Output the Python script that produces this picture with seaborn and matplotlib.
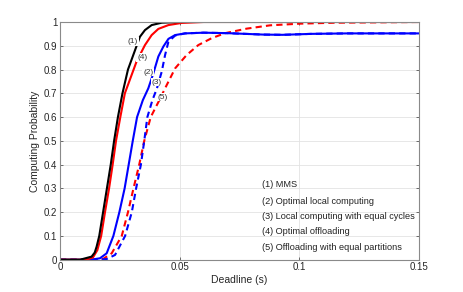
import numpy as np
import pandas as pd
import matplotlib
matplotlib.use("Agg")
import matplotlib.pyplot as plt
import seaborn as sns

# Curves (deadline in s, computing probability)
mms_x = [0, 0.0084, 0.0132, 0.0145, 0.0153, 0.0164, 0.018, 0.0196, 0.0212, 0.0226,
         0.0242, 0.0261, 0.0284, 0.0313, 0.0334, 0.0355, 0.0383, 0.0425, 0.05, 0.06, 0.15]
mms_y = [0, 0, 0.013, 0.03, 0.055, 0.1, 0.2, 0.3, 0.4, 0.5,
         0.6, 0.7, 0.8, 0.88, 0.938, 0.966, 0.987, 0.997, 1.0, 1.0, 1.0]

loc_opt_x = [0, 0.013, 0.0167, 0.0195, 0.0223, 0.0248, 0.027, 0.0287, 0.0304, 0.0322,
             0.0346, 0.0369, 0.039, 0.0411, 0.0432, 0.0453, 0.0481, 0.0522, 0.06, 0.07,
             0.085, 0.093, 0.105, 0.12, 0.15]
loc_opt_y = [0, 0, 0.006, 0.027, 0.1, 0.2, 0.3, 0.4, 0.5, 0.6,
             0.671, 0.721, 0.784, 0.855, 0.897, 0.929, 0.945, 0.952, 0.955, 0.953,
             0.947, 0.946, 0.95, 0.952, 0.952]

loc_eq_x = [0, 0.0165, 0.0195, 0.023, 0.0272, 0.03, 0.0318, 0.0338, 0.0352, 0.0365,
            0.0386, 0.0405, 0.0425, 0.0439, 0.0453, 0.0481, 0.0522, 0.06, 0.07, 0.085,
            0.093, 0.105, 0.12, 0.15]
loc_eq_y = [0, 0, 0.003, 0.02, 0.1, 0.2, 0.3, 0.4, 0.5, 0.6,
            0.671, 0.721, 0.791, 0.861, 0.917, 0.943, 0.952, 0.955, 0.953, 0.947,
            0.946, 0.95, 0.952, 0.952]

off_opt_x = [0, 0.011, 0.0138, 0.0156, 0.0172, 0.0188, 0.0205, 0.022, 0.0234, 0.0252,
             0.0271, 0.032, 0.0355, 0.0383, 0.0411, 0.0453, 0.0508, 0.06, 0.15]
off_opt_y = [0, 0, 0.01, 0.04, 0.1, 0.2, 0.3, 0.4, 0.5, 0.6,
             0.7, 0.834, 0.903, 0.945, 0.971, 0.987, 0.996, 1.0, 1.0]

off_eq_x = [0, 0.0158, 0.018, 0.0216, 0.0258, 0.0284, 0.0307, 0.0331, 0.0352, 0.0379,
            0.0415, 0.0439, 0.0481, 0.0529, 0.0578, 0.0634, 0.069, 0.078, 0.0878, 0.1003,
            0.115, 0.15]
off_eq_y = [0, 0, 0.003, 0.027, 0.1, 0.2, 0.3, 0.4, 0.5, 0.6,
            0.671, 0.721, 0.805, 0.861, 0.903, 0.932, 0.953, 0.972, 0.986, 0.993,
            0.997, 1.0]

# inline tags (1)..(5) on the curves
tag_text = ["(1)", "(4)", "(2)", "(3)", "(5)"]
tag_x = [0.0305, 0.0343, 0.0368, 0.0405, 0.043]
tag_y = [0.919, 0.852, 0.789, 0.747, 0.684]

legend_lines = ["(1) MMS",
                "(2) Optimal local computing",
                "(3) Local computing with equal cycles",
                "(4) Optimal offloading",
                "(5) Offloading with equal partitions"]
legend_y = [0.315, 0.243, 0.18, 0.12, 0.053]

x_ticks = [0, 0.05, 0.1, 0.15]
x_tick_labels = ["0", "0.05", "0.1", "0.15"]
y_ticks = [0, 0.1, 0.2, 0.3, 0.4, 0.5, 0.6, 0.7, 0.8, 0.9, 1.0]
y_tick_labels = ["0", "0.1", "0.2", "0.3", "0.4", "0.5", "0.6", "0.7", "0.8", "0.9", "1"]

sns.set_theme(style="whitegrid")
plt.rcParams["font.family"] = ["Liberation Sans", "DejaVu Sans"]

fig = plt.figure(figsize=(4.63, 2.92), dpi=100)
ax = fig.add_axes([0.1296, 0.1106, 0.7754, 0.8141])

curves = [
    (off_eq_x, off_eq_y, "red", "--"),
    (loc_eq_x, loc_eq_y, "blue", "--"),
    (loc_opt_x, loc_opt_y, "blue", "-"),
    (off_opt_x, off_opt_y, "red", "-"),
    (mms_x, mms_y, "black", "-"),
]
for cx, cy, col, ls in curves:
    df = pd.DataFrame({"x": cx, "y": cy})
    line_kw = dict(color=col, linewidth=1.5)
    if ls == "--":
        line_kw["dashes"] = (3, 2)
    sns.lineplot(data=df, x="x", y="y", ax=ax, sort=False, estimator=None, **line_kw)

for t, tx, ty in zip(tag_text, tag_x, tag_y):
    ax.text(tx, ty, t, fontsize=6, color="#333333", ha="center", va="center",
            bbox=dict(facecolor="white", edgecolor="none", pad=0.6), zorder=5)

for t, ly in zip(legend_lines, legend_y):
    ax.text(0.0845, ly, t, fontsize=6.6, color="#222222", ha="left", va="center")

ax.set_xlim(0, 0.15)
ax.set_ylim(0, 1)
ax.set_xticks(x_ticks)
ax.set_xticklabels(x_tick_labels)
ax.set_yticks(y_ticks)
ax.set_yticklabels(y_tick_labels)
ax.set_xlabel("Deadline (s)", fontsize=7.5, color="#262626", labelpad=2)
ax.set_ylabel("Computing Probability", fontsize=7.5, color="#262626", labelpad=3)

ax.grid(True, color="#e3e3e3", linewidth=0.6)
for s in ax.spines.values():
    s.set_visible(True)
    s.set_color("#8a8a8a")
    s.set_linewidth(0.8)
ax.tick_params(axis="both", direction="in", length=2.5, width=0.6, color="#555555",
               labelsize=7, labelcolor="#262626", pad=2, top=True, right=True,
               bottom=True, left=True)

fig.savefig("out.png", dpi=100)
